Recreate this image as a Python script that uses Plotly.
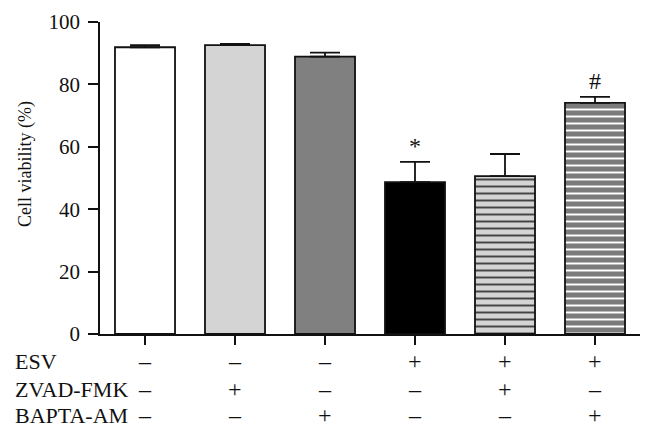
import plotly.graph_objects as go

# Six treatment groups, left to right
groups = ["G1", "G2", "G3", "G4", "G5", "G6"]
viability = [91.9, 92.6, 88.9, 48.7, 50.6, 74.1]   # cell viability (%)
sem = [0.7, 0.4, 1.3, 6.5, 7.1, 1.9]               # upper error bar
marks = ["", "", "", "*", "", "#"]

# Treatment matrix shown under the axis
row_labels = ["ESV", "ZVAD-FMK", "BAPTA-AM"]
esv = ["–", "–", "–", "+", "+", "+"]
zvad = ["–", "+", "–", "–", "+", "–"]
bapta = ["–", "–", "+", "–", "–", "+"]

fills = ["#ffffff", "#d4d4d4", "#808080", "#000000", "#d4d4d4", "#7b7b7b"]
stripes = ["", "", "", "", "-", "-"]

FONT = "Liberation Serif"
INK = "#111111"

fig = go.Figure()
fig.add_trace(go.Bar(
    x=groups, y=viability, width=0.667,
    marker=dict(
        color=fills,
        line=dict(color=INK, width=1.8),
        pattern=dict(shape=stripes, fgcolor="#1a1a1a", fgopacity=1,
                     size=7, solidity=0.28, fillmode="overlay"),
    ),
    error_y=dict(type="data", symmetric=False, array=sem,
                 arrayminus=[0] * len(sem), color=INK,
                 thickness=1.8, width=15),
    showlegend=False, hoverinfo="skip",
))

# significance marks above error bars
for g, v, e, m in zip(groups, viability, sem, marks):
    if m:
        fig.add_annotation(x=g, y=v + e, text=m, showarrow=False,
                           yanchor="bottom", yshift=1,
                           font=dict(family=FONT, size=24, color=INK))

# treatment table below the axis
rows = [esv, zvad, bapta]
shifts = [-27, -55, -81]
for label, signs, dy in zip(row_labels, rows, shifts):
    fig.add_annotation(x=0, xref="paper", xshift=-87, y=0, yref="paper",
                       yshift=dy, text=label, showarrow=False,
                       xanchor="left", yanchor="middle",
                       font=dict(family=FONT, size=22, color=INK))
    for g, s in zip(groups, signs):
        fig.add_annotation(x=g, y=0, yref="paper", yshift=dy, text=s,
                           showarrow=False, xanchor="center", yanchor="middle",
                           font=dict(family=FONT, size=24, color=INK))

# y-axis title, placed by hand to sit a little above the axis centre
fig.add_annotation(x=0, xref="paper", xshift=-74, y=0.545, yref="paper",
                   text="Cell viability (%)", textangle=-90, showarrow=False,
                   xanchor="center", yanchor="middle",
                   font=dict(family=FONT, size=18, color=INK))

# page body has an 8px margin, so the figure is trimmed by 8px on the top/left
fig.update_layout(
    width=646, height=428,
    margin=dict(l=92, r=14, t=14, b=102),
    plot_bgcolor="white", paper_bgcolor="white",
    font=dict(family=FONT, size=20, color=INK),
)
fig.update_xaxes(
    range=[-0.5, 5.5], showticklabels=False, ticks="outside", ticklen=9,
    tickwidth=1.8, tickcolor=INK, showline=True, linecolor=INK,
    linewidth=1.8, showgrid=False, zeroline=False, automargin=False,
)
fig.update_yaxes(
    range=[0, 100], tickvals=[0, 20, 40, 60, 80, 100], ticks="outside",
    ticklen=10, tickwidth=1.8, tickcolor=INK, showline=True,
    linecolor=INK, linewidth=1.8, showgrid=False, zeroline=False,
    automargin=False, tickfont=dict(family=FONT, size=21),
    ticklabelstandoff=4,
)

fig.write_html("out.html")
